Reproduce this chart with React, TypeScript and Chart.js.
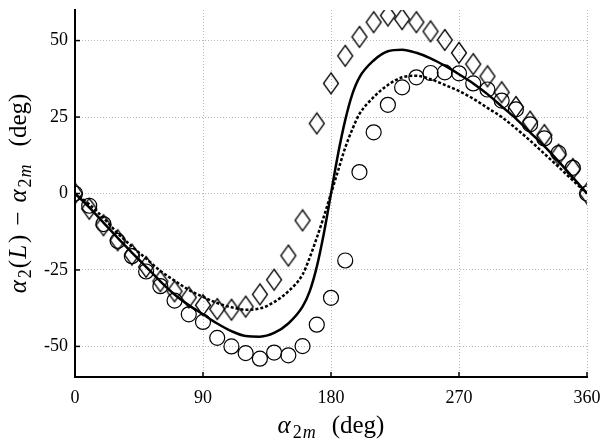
import React, { useEffect, useRef } from "react";
import { Chart, registerables } from "chart.js";

Chart.register(...registerables);

// ---- data ----
const markerX = [0, 10, 20, 30, 40, 50, 60, 70, 80, 90, 100, 110, 120, 130, 140, 150, 160, 170, 180, 190, 200, 210, 220, 230, 240, 250, 260, 270, 280, 290, 300, 310, 320, 330, 340, 350, 360];
const circleY = [0, -4, -10, -15.5, -20.5, -25.5, -30.3, -35, -39.5, -42, -47.2, -50, -52.2, -54, -52, -52.9, -49.9, -42.9, -34.1, -21.9, 7, 20, 29, 34.7, 38, 39.4, 39.6, 39.3, 36, 34, 30.4, 27.5, 22.6, 18, 13.2, 8.4, 0];
const diamondY = [0, -5, -10.4, -15.3, -20, -24, -28.7, -32, -34, -36.5, -37.8, -38, -37, -33, -28.2, -20.3, -8.8, 22.9, 36, 45, 51.2, 56, 58.2, 57, 56, 53, 50.2, 46, 42.3, 38.3, 33.1, 28.3, 23.5, 19.1, 12.7, 8, 0];

const curveX = [0, 10, 20, 30, 40, 50, 60, 70, 80, 90, 100, 110, 120, 130, 140, 150, 160, 165, 170, 175, 180, 185, 190, 195, 200, 210, 220, 230, 240, 250, 260, 270, 280, 290, 300, 310, 320, 330, 340, 350, 360];
const solidY = [0, -4.5, -9.5, -14.5, -19.3, -24, -28.7, -33, -36.5, -39.5, -42.5, -45, -46.6, -46.8, -45.6, -42.5, -37, -32, -24, -13, 0, 13, 24, 32.5, 38, 43.5, 46.5, 47, 46, 44.2, 41.8, 39, 36, 32.5, 28.5, 24.5, 20, 15.5, 10.5, 5.3, 0];
const dottedY = [0, -3.5, -8, -13, -17.3, -21.3, -25.3, -28.5, -31.5, -33.8, -35.8, -37.2, -38, -37.6, -35.5, -32, -26.5, -21, -14.5, -7.5, 0, 7.5, 15, 21, 26, 31.5, 35.5, 38, 38.5, 37.4, 35.5, 33.5, 31, 28, 25, 21.3, 17.3, 13, 8.7, 4.3, 0];

const xTickValues = [0, 90, 180, 270, 360];
const yTickValues = [-50, -25, 0, 25, 50];

const FONT = '"Liberation Serif", "DejaVu Serif", serif';

type Run = { t: string; it?: boolean; sub?: boolean; gap?: number };

function drawRuns(ctx: CanvasRenderingContext2D, runs: Run[], cx: number, cy: number, rotate: boolean) {
  const big = 25;
  const small = 18;
  const fontFor = (r: Run) => `${r.it ? "italic " : ""}${r.sub ? small : big}px ${FONT}`;
  let total = 0;
  const widths = runs.map((r) => {
    ctx.font = fontFor(r);
    const w = ctx.measureText(r.t).width + (r.gap || 0);
    total += w;
    return w;
  });
  ctx.save();
  ctx.translate(cx, cy);
  if (rotate) ctx.rotate(-Math.PI / 2);
  ctx.fillStyle = "#000";
  ctx.textBaseline = "alphabetic";
  ctx.textAlign = "left";
  let x = -total / 2;
  runs.forEach((r, i) => {
    ctx.font = fontFor(r);
    ctx.fillText(r.t, x + (r.gap || 0), r.sub ? 5 : 0);
    x += widths[i];
  });
  ctx.restore();
}

export default function App() {
  const ref = useRef<HTMLCanvasElement | null>(null);

  useEffect(() => {
    if (!ref.current) return;

    const dia = document.createElement("canvas");
    dia.width = 18;
    dia.height = 24;
    const dctx = dia.getContext("2d")!;
    dctx.strokeStyle = "#000";
    dctx.lineWidth = 1.3;
    dctx.beginPath();
    dctx.moveTo(9, 1.5);
    dctx.lineTo(16.5, 12);
    dctx.lineTo(9, 22.5);
    dctx.lineTo(1.5, 12);
    dctx.closePath();
    dctx.stroke();

    const extras = {
      id: "extras",
      afterDraw(chart: any) {
        const ctx = chart.ctx as CanvasRenderingContext2D;
        const xs = chart.scales.x;
        const ys = chart.scales.y;
        const a = chart.chartArea;
        ctx.save();
        ctx.strokeStyle = "#000";
        ctx.lineWidth = 1.5;
        xTickValues.forEach((v) => {
          const p = xs.getPixelForValue(v);
          ctx.beginPath();
          ctx.moveTo(p, a.bottom);
          ctx.lineTo(p, a.bottom - 5);
          ctx.stroke();
        });
        yTickValues.forEach((v) => {
          const p = ys.getPixelForValue(v);
          ctx.beginPath();
          ctx.moveTo(a.left, p);
          ctx.lineTo(a.left + 5, p);
          ctx.stroke();
        });
        ctx.restore();
        const cx = (a.left + a.right) / 2;
        const cy = (a.top + a.bottom) / 2;
        drawRuns(
          ctx,
          [
            { t: "α", it: true },
            { t: "2", sub: true, gap: 2 },
            { t: "m", it: true, sub: true, gap: 1 },
            { t: "(deg)", gap: 16 },
          ],
          cx,
          433,
          false
        );
        drawRuns(
          ctx,
          [
            { t: "α", it: true },
            { t: "2", sub: true, gap: 2 },
            { t: "(", gap: 1 },
            { t: "L", it: true, gap: 1 },
            { t: ")", gap: 2 },
            { t: "−", gap: 9 },
            { t: "α", it: true, gap: 9 },
            { t: "2", sub: true, gap: 2 },
            { t: "m", it: true, sub: true, gap: 1 },
            { t: "(deg)", gap: 18 },
          ],
          26,
          cy,
          true
        );
      },
    };

    const pts = (xs: number[], ys: number[]) => xs.map((x, i) => ({ x, y: ys[i] }));

    const chart = new Chart(ref.current, {
      type: "line",
      data: {
        datasets: [
          {
            data: pts(curveX, solidY),
            borderColor: "#000",
            borderWidth: 2.5,
            pointRadius: 0,
            cubicInterpolationMode: "monotone",
            fill: false,
          },
          {
            data: pts(curveX, dottedY),
            borderColor: "#000",
            borderWidth: 2.5,
            borderDash: [3, 2],
            pointRadius: 0,
            cubicInterpolationMode: "monotone",
            fill: false,
          },
          {
            data: pts(markerX, circleY),
            showLine: false,
            pointStyle: "circle",
            pointRadius: 7.5,
            pointBorderWidth: 1.2,
            pointBorderColor: "#000",
            pointBackgroundColor: "rgba(0,0,0,0)",
          },
          {
            data: pts(markerX, diamondY),
            showLine: false,
            pointStyle: dia as any,
            pointRadius: 9,
          },
        ],
      } as any,
      options: {
        animation: false,
        responsive: true,
        maintainAspectRatio: false,
        layout: { padding: { top: 5, right: 14, left: 0, bottom: 0 } },
        plugins: { legend: { display: false }, tooltip: { enabled: false } },
        scales: {
          x: {
            type: "linear",
            min: 0,
            max: 360,
            afterBuildTicks: (s: any) => {
              s.ticks = xTickValues.map((v) => ({ value: v }));
            },
            afterFit: (s: any) => {
              s.height = 64;
              s.paddingLeft = 0;
              s.paddingRight = 0;
            },
            ticks: { color: "#000", font: { family: FONT, size: 18 }, padding: 10, maxRotation: 0 },
            grid: { color: "rgba(0,0,0,0.28)", lineWidth: 1, drawTicks: false } as any,
            border: { color: "#000", width: 2, dash: [1, 2] } as any,
          },
          y: {
            type: "linear",
            min: -60,
            max: 60,
            afterBuildTicks: (s: any) => {
              s.ticks = yTickValues.map((v) => ({ value: v }));
            },
            afterFit: (s: any) => {
              s.width = 75;
              s.paddingTop = 0;
              s.paddingBottom = 0;
            },
            ticks: { color: "#000", font: { family: FONT, size: 18 }, padding: 7 },
            grid: { color: "rgba(0,0,0,0.28)", lineWidth: 1, drawTicks: false } as any,
            border: { color: "#000", width: 2, dash: [1, 2] } as any,
          },
        },
      } as any,
      plugins: [extras],
    });
    return () => chart.destroy();
  }, []);

  return (
    <div style={{ position: "absolute", left: 0, top: 0, width: 601, height: 441, background: "#fff" }}>
      <canvas ref={ref} />
    </div>
  );
}
